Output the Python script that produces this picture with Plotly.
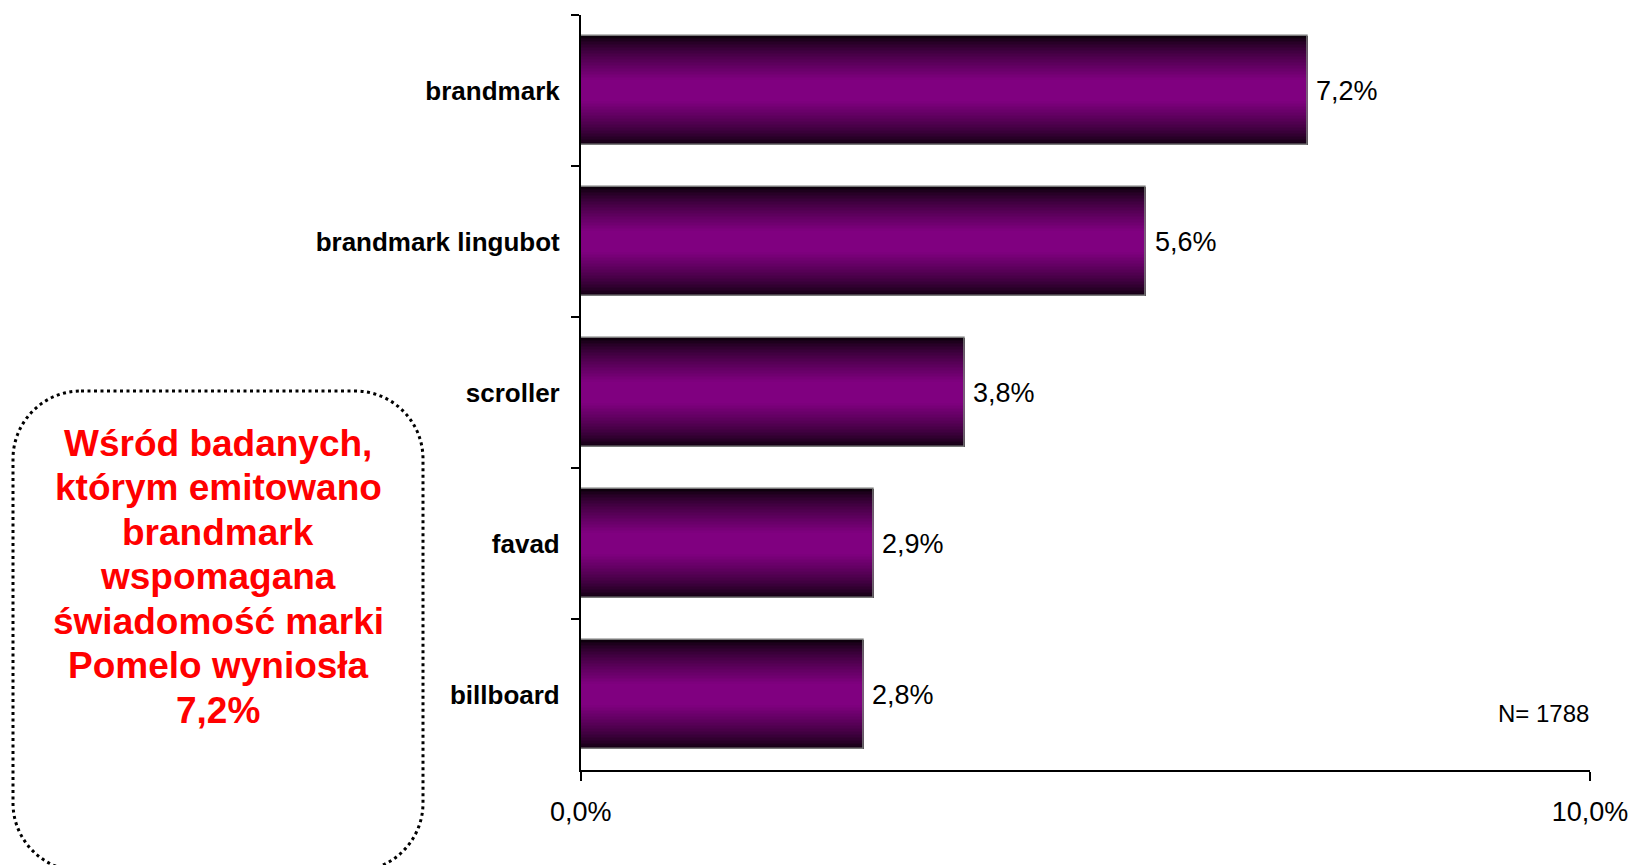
import plotly.graph_objects as go

# ---- data ----
categories = ["brandmark", "brandmark lingubot", "scroller", "favad", "billboard"]
values = [7.2, 5.6, 3.8, 2.9, 2.8]
x_tickvals = [0, 10]
x_ticktext = ["0,0%", "10,0%"]
sample_note = "N= 1788"
note_lines = [
    "Wśród badanych,",
    "którym emitowano",
    "brandmark",
    "wspomagana",
    "świadomość marki",
    "Pomelo wyniosła",
    "7,2%",
]

# ---- page geometry (pixels) ----
W_PX, H_PX = 1631, 865


def px_x(x):
    return x / W_PX


def px_y(y):
    return 1 - y / H_PX


FONT = "Arial, Liberation Sans, sans-serif"
BAR_WIDTH = 0.722
LAYERS = 36
EDGE = (14, 0, 13)
MID = (128, 0, 128)


def blend(s):
    r, g, b = (round(e + (m - e) * s) for e, m in zip(EDGE, MID))
    return f"rgb({r},{g},{b})"


def pct(v):
    return f"{v:.1f}".replace(".", ",") + "%"


fig = go.Figure()

# nested bars, each narrower and lighter, build the vertical shading
for i in range(LAYERS):
    u = i / (LAYERS - 1)
    fig.add_trace(go.Bar(
        x=values, y=categories, orientation="h",
        width=BAR_WIDTH * (1 - i / LAYERS),
        marker=dict(color=blend(min(1.0, u * 1.2) ** 0.75), line=dict(width=0)),
        hoverinfo="skip", showlegend=False,
    ))

# outline of each bar
fig.add_trace(go.Bar(
    x=values, y=categories, orientation="h", width=BAR_WIDTH,
    marker=dict(color="rgba(0,0,0,0)", line=dict(width=1.5, color="#7a7a7a")),
    hoverinfo="skip", showlegend=False,
))

# value labels at the bar ends
annotations = []
for c, v in zip(categories, values):
    annotations.append(dict(
        x=v, y=c, xref="x", yref="y", text=pct(v), showarrow=False,
        xanchor="left", yanchor="middle", xshift=7,
        font=dict(family=FONT, size=27, color="#000000"),
    ))

annotations.append(dict(
    x=px_x(1591), y=px_y(713), xref="paper", yref="paper", text=sample_note,
    showarrow=False, xanchor="right", yanchor="middle",
    font=dict(family=FONT, size=24, color="#000000"),
))

# red note text, one line per annotation
baseline0, line_gap = 455, 44.5
for k, line in enumerate(note_lines):
    yb = baseline0 + k * line_gap
    annotations.append(dict(
        x=px_x(218), y=px_y(yb - 12), xref="paper", yref="paper", text=line,
        showarrow=False, xanchor="center", yanchor="middle",
        font=dict(family=FONT, size=37, color="#ff0000", weight="bold"),
    ))

# dotted rounded frame around the note
x0, y0, x1, y1, r = 13, 391, 423, 871, 68
k = 0.5523 * r
pts = [
    ("M", [(x0 + r, y0)]),
    ("L", [(x1 - r, y0)]),
    ("C", [(x1 - r + k, y0), (x1, y0 + r - k), (x1, y0 + r)]),
    ("L", [(x1, y1 - r)]),
    ("C", [(x1, y1 - r + k), (x1 - r + k, y1), (x1 - r, y1)]),
    ("L", [(x0 + r, y1)]),
    ("C", [(x0 + r - k, y1), (x0, y1 - r + k), (x0, y1 - r)]),
    ("L", [(x0, y0 + r)]),
    ("C", [(x0, y0 + r - k), (x0 + r - k, y0), (x0 + r, y0)]),
]
path = " ".join(
    cmd + " " + " ".join(f"{px_x(a):.5f},{px_y(b):.5f}" for a, b in p)
    for cmd, p in pts
) + " Z"

fig.update_layout(
    width=W_PX, height=H_PX, autosize=False,
    margin=dict(l=0, r=0, t=0, b=0, pad=0),
    paper_bgcolor="#ffffff", plot_bgcolor="#ffffff",
    barmode="overlay", bargap=0,
    annotations=annotations,
    shapes=[dict(
        type="path", path=path, xref="paper", yref="paper",
        line=dict(color="#000000", width=3, dash="3px,3.5px"),
        fillcolor="rgba(0,0,0,0)",
    )],
    xaxis=dict(
        domain=[px_x(580.7), px_x(1590)], range=[0, 10],
        automargin=False,
        tickvals=x_tickvals, ticktext=x_ticktext,
        ticks="outside", ticklen=9, tickwidth=1.5, tickcolor="#000000",
        showline=True, linecolor="#000000", linewidth=1.5,
        showgrid=False, zeroline=False, ticklabelstandoff=8,
        tickfont=dict(family=FONT, size=27, color="#000000"),
    ),
    yaxis=dict(
        domain=[px_y(770), px_y(15)], range=[4.5, -0.5],
        automargin=False,
        type="category", categoryorder="array", categoryarray=categories,
        tickson="boundaries", ticks="outside", ticklen=8, tickwidth=1.5,
        tickcolor="#000000",
        showline=True, linecolor="#000000", linewidth=1.5,
        showgrid=False, zeroline=False, ticklabelstandoff=14,
        tickfont=dict(family=FONT, size=26, color="#000000", weight="bold"),
    ),
)

fig.write_html("out.html")
